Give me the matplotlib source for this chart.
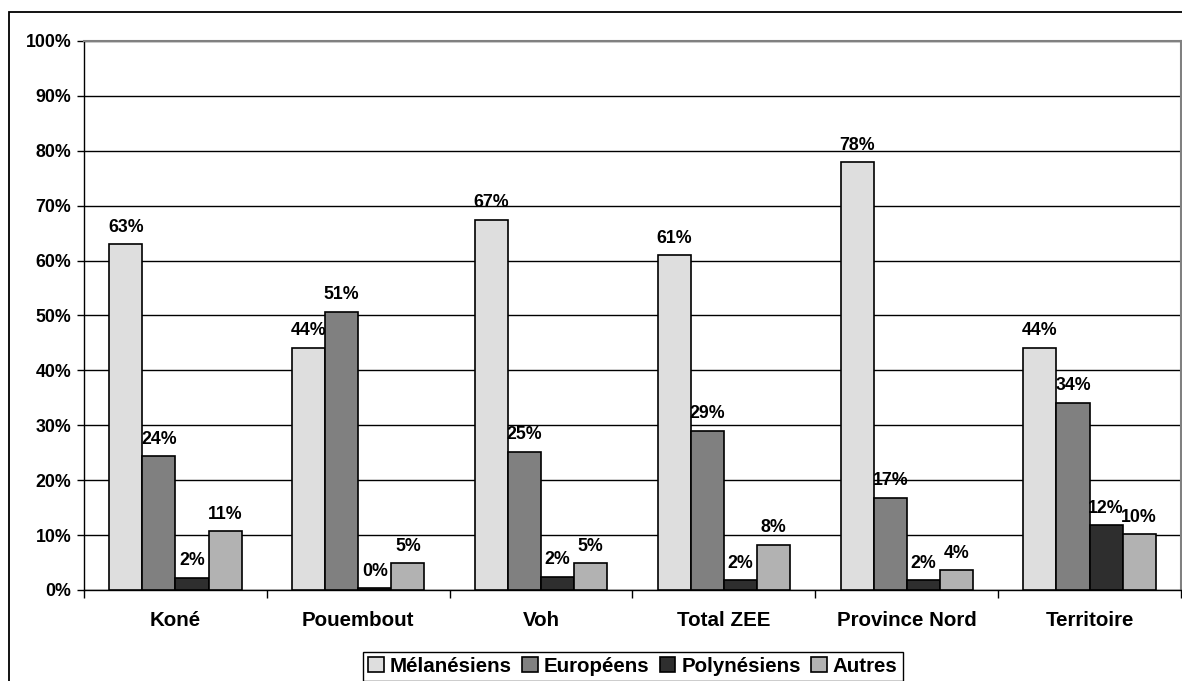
import matplotlib
matplotlib.use("Agg")
import matplotlib.pyplot as plt
from matplotlib.patches import Rectangle
import numpy as np

plt.rcParams['font.family'] = ['Liberation Sans', 'DejaVu Sans']
plt.rcParams['font.weight'] = 'bold'

categories = ["Koné", "Pouembout", "Voh", "Total ZEE", "Province Nord", "Territoire"]
series_names = ["Mélanésiens", "Européens", "Polynésiens", "Autres"]
melanesiens = [63.0, 44.1, 67.4, 61.0, 77.9, 44.1]
europeens = [24.4, 50.7, 25.2, 29.0, 16.8, 34.1]
polynesiens = [2.2, 0.3, 2.4, 1.8, 1.8, 11.8]
autres = [10.7, 4.9, 4.9, 8.2, 3.6, 10.2]
yticks = [0, 10, 20, 30, 40, 50, 60, 70, 80, 90, 100]

series = [melanesiens, europeens, polynesiens, autres]
colors = ["#dedede", "#808080", "#2e2e2e", "#b2b2b2"]

W, H = 1182, 681
fig = plt.figure(figsize=(W / 100, H / 100), dpi=100)
ax = fig.add_axes([84 / W, 1 - 590 / H, (1181 - 84) / W, (590 - 41) / H])

# outer chart border
fig.patches.append(Rectangle((9 / W, -0.05), 1.2, 1 - 12 / H + 0.05,
                             transform=fig.transFigure, fill=False,
                             edgecolor="black", linewidth=1.3, zorder=0))

x = np.arange(len(categories))
bw = 0.181
handles = []
for i, (vals, col, name) in enumerate(zip(series, colors, series_names)):
    off = (i - 1.5) * bw
    bars = ax.bar(x + off, vals, width=bw, color=col, edgecolor="black",
                  linewidth=1.2, label=name, zorder=3)
    handles.append(bars)
    for xi, v in zip(x, vals):
        ax.annotate(f"{round(v):d}%", (xi + off, v), xytext=(0, 9),
                    textcoords="offset points", ha="center", va="baseline",
                    fontsize=12.8, fontweight="bold", zorder=4)

ax.set_ylim(0, 100)
ax.set_xlim(-0.5, len(categories) - 0.5)
ax.set_yticks(yticks)
ax.set_yticklabels([f"{t}%" for t in yticks], fontsize=12.8, fontweight="bold")
ax.yaxis.grid(True, color="black", linewidth=1.0, zorder=0)
ax.set_axisbelow(True)
ax.tick_params(axis="y", direction="out", length=5, width=1, pad=4)

ax.set_xticks(x)
ax.set_xticklabels(categories, fontsize=14.8, fontweight="bold")
ax.set_xticks(np.arange(-0.5, len(categories)), minor=True)
ax.tick_params(axis="x", which="major", length=0, pad=15)
ax.tick_params(axis="x", which="minor", direction="out", length=6, width=1)

for s in ["top", "right"]:
    ax.spines[s].set_color("#808080")
    ax.spines[s].set_linewidth(1.5)
ax.spines["left"].set_color("black")
ax.spines["bottom"].set_color("black")
ax.spines["left"].set_linewidth(1.0)
ax.spines["bottom"].set_linewidth(1.0)

leg = fig.legend(handles=handles, labels=series_names, loc="upper center",
                 bbox_to_anchor=(633 / W, 1 - 652 / H), ncol=4, frameon=True,
                 fancybox=False, edgecolor="black", framealpha=1,
                 prop={"size": 14.8, "weight": "bold"}, handlelength=0.75,
                 handleheight=0.75, handletextpad=0.3, columnspacing=0.5,
                 borderpad=0.25, borderaxespad=0)
leg.get_frame().set_linewidth(1.0)

fig.savefig("out.png", dpi=100, facecolor="white")
